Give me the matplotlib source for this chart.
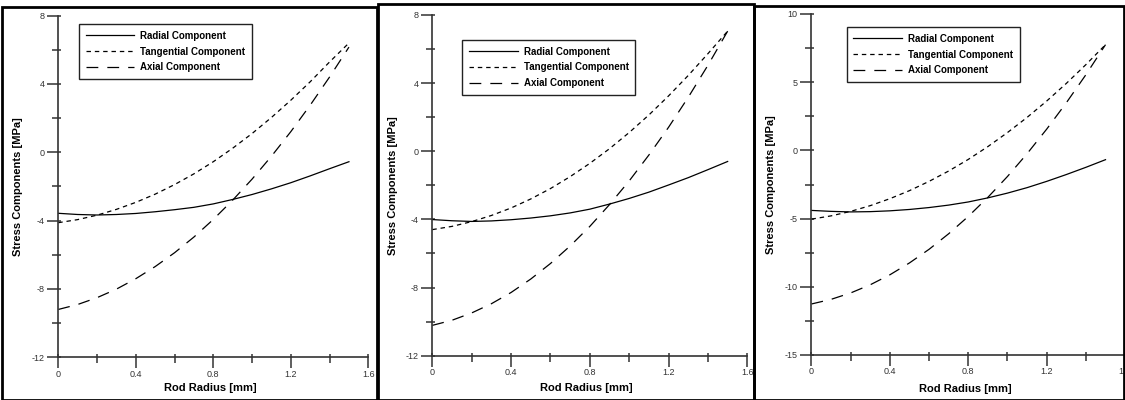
import numpy as np
import matplotlib
matplotlib.use("Agg")
import matplotlib.pyplot as plt
from matplotlib.patches import Rectangle

plt.rcParams['font.family'] = ['Liberation Sans', 'DejaVu Sans']
plt.rcParams['lines.scale_dashes'] = False
plt.rcParams['axes.unicode_minus'] = False

# rod radius [mm], same for all three panels
radius = [0.0, 0.1, 0.2, 0.3, 0.4, 0.5, 0.6, 0.7, 0.8, 0.9, 1.0, 1.1, 1.2, 1.3, 1.4, 1.5]

# panel 1
radial_1 = [-3.57, -3.64, -3.67, -3.64, -3.58, -3.48, -3.36, -3.22, -3.02, -2.76,
            -2.47, -2.14, -1.78, -1.38, -0.96, -0.55]
tangential_1 = [-4.12, -3.94, -3.68, -3.34, -2.93, -2.45, -1.89, -1.26, -0.55, 0.24,
                1.10, 2.04, 3.05, 4.13, 5.29, 6.40]
axial_1 = [-9.20, -8.91, -8.51, -8.01, -7.40, -6.69, -5.88, -4.96, -3.93, -2.80,
           -1.57, -0.23, 1.21, 2.76, 4.41, 6.16]

# panel 2
radial_2 = [-4.01, -4.08, -4.12, -4.09, -4.02, -3.92, -3.79, -3.62, -3.40, -3.10,
            -2.77, -2.40, -1.98, -1.55, -1.08, -0.60]
tangential_2 = [-4.60, -4.41, -4.13, -3.77, -3.33, -2.80, -2.19, -1.49, -0.71, 0.15,
                1.10, 2.13, 3.25, 4.45, 5.73, 7.05]
axial_2 = [-10.22, -9.92, -9.49, -8.95, -8.29, -7.50, -6.59, -5.56, -4.41, -3.13,
           -1.74, -0.22, 1.41, 3.17, 5.05, 7.05]

# panel 3
radial_3 = [-4.40, -4.47, -4.51, -4.49, -4.43, -4.33, -4.19, -4.01, -3.78, -3.48,
            -3.13, -2.73, -2.27, -1.77, -1.24, -0.68]
tangential_3 = [-5.04, -4.80, -4.47, -4.05, -3.54, -2.95, -2.27, -1.51, -0.66, 0.28,
                1.31, 2.42, 3.62, 4.91, 6.29, 7.75]
axial_3 = [-11.26, -10.92, -10.45, -9.85, -9.12, -8.25, -7.25, -6.11, -4.84, -3.44,
           -1.91, -0.24, 1.56, 3.49, 5.55, 7.75]

panels = [
    dict(rad=radial_1, tan=tangential_1, ax_=axial_1, ylim=(-12, 8), major=4, minor=2,
         pos=[0.0518, 0.1068, 0.2756, 0.854], leg=(0.067, 0.976), ylab=-0.115,
         xlab=-0.074, frame=(1.5, 7, 376.5, 399.5)),
    dict(rad=radial_2, tan=tangential_2, ax_=axial_2, ylim=(-12, 8), major=4, minor=2,
         pos=[0.3843, 0.1108, 0.28, 0.8518], leg=(0.095, 0.927), ylab=-0.110,
         xlab=-0.079, frame=(378, 3.5, 753.5, 399.5)),
    dict(rad=radial_3, tan=tangential_3, ax_=axial_3, ylim=(-15, 10), major=5, minor=2.5,
         pos=[0.7213, 0.1125, 0.2788, 0.8525], leg=(0.112, 0.962), ylab=-0.114,
         xlab=-0.084, frame=(753.5, 6, 1123.5, 399.5)),
]

W, H = 1125, 400
fig = plt.figure(figsize=(11.25, 4), dpi=100)
spine_col = '#333333'

for p in panels:
    ax = fig.add_axes(p['pos'])
    ax.plot(radius, p['rad'], color='black', lw=0.9, label='Radial Component')
    ax.plot(radius, p['tan'], color='black', lw=0.9, dashes=(3.2, 2.8),
            label='Tangential Component')
    ax.plot(radius, p['ax_'], color='black', lw=0.9, dashes=(8.5, 6.5),
            label='Axial Component')

    ax.set_xlim(0, 1.6)
    ax.set_ylim(*p['ylim'])
    for s in ['top', 'right']:
        ax.spines[s].set_visible(False)
    for s in ['left', 'bottom']:
        ax.spines[s].set_color(spine_col)
        ax.spines[s].set_linewidth(1.2)

    lo, hi = p['ylim']
    ax.set_xticks(np.arange(0, 1.61, 0.4))
    ax.set_xticks(np.arange(0.2, 1.61, 0.4), minor=True)
    ax.set_yticks(np.arange(lo, hi + 0.01, p['major']))
    ax.set_yticks(np.arange(lo + p['minor'], hi, p['major']), minor=True)
    ax.set_xticklabels(['0', '0.4', '0.8', '1.2', '1.6'])
    ax.tick_params(which='major', direction='out', length=8, width=1.1,
                   color=spine_col, labelsize=6.5, labelcolor='#333333')
    ax.tick_params(which='minor', direction='out', length=4, width=1.1, color=spine_col)
    ax.tick_params(axis='x', which='major', pad=1)
    ax.tick_params(axis='y', which='major', pad=2)

    # short inward ticks at every position
    sx = ax.secondary_xaxis('bottom')
    sx.set_xticks(np.arange(0, 1.61, 0.2))
    sx.tick_params(direction='in', length=2.2, width=1.1, color=spine_col, labelbottom=False)
    sx.spines['bottom'].set_visible(False)
    sy = ax.secondary_yaxis('left')
    sy.set_yticks(np.arange(lo, hi + 0.01, p['minor']))
    sy.tick_params(direction='in', length=2.2, width=1.1, color=spine_col, labelleft=False)
    sy.spines['left'].set_visible(False)

    ax.set_xlabel('Rod Radius [mm]', fontsize=8, fontweight='bold')
    ax.set_ylabel('Stress Components [MPa]', fontsize=8, fontweight='bold')
    ax.xaxis.set_label_coords(0.49, p['xlab'])
    ax.yaxis.set_label_coords(p['ylab'], 0.5)

    leg = ax.legend(loc='upper left', bbox_to_anchor=p['leg'], borderaxespad=0,
                    prop={'size': 7, 'weight': 'bold'}, handlelength=5,
                    handletextpad=0.6, labelspacing=0.6, borderpad=0.7,
                    fancybox=False, frameon=True, framealpha=1)
    leg.get_frame().set_edgecolor('#222222')
    leg.get_frame().set_linewidth(1.0)

    x0, y0, x1, y1 = p['frame']
    fig.add_artist(Rectangle((x0 / W, 1 - y1 / H), (x1 - x0) / W, (y1 - y0) / H,
                             transform=fig.transFigure, fill=False,
                             edgecolor='black', lw=2, zorder=10))

fig.savefig('out.png', dpi=100)
